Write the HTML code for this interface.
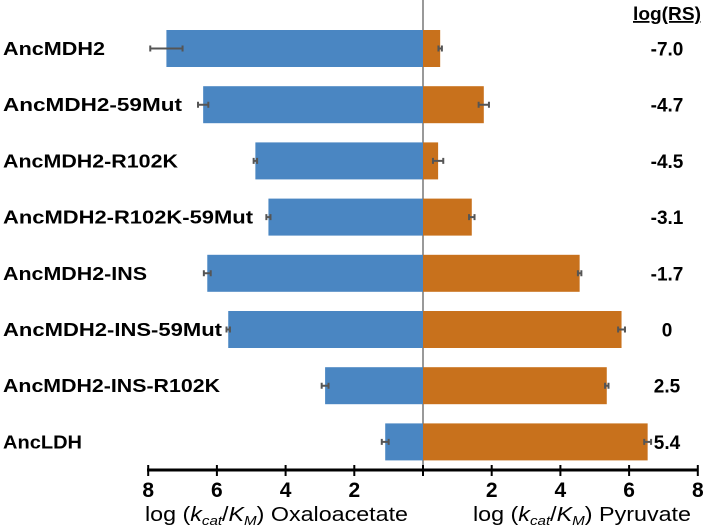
<!DOCTYPE html>
<html><head><meta charset="utf-8"><style>
body{margin:0;background:#fff;}
svg{display:block;font-family:"Liberation Sans",sans-serif;}
</style></head><body>
<svg id="chart" width="707" height="528">
<line x1="423" y1="0" x2="423" y2="470" stroke="#333" stroke-width="1"/>
<g id="bars"></g>
<line x1="147" y1="470" x2="698" y2="470" stroke="#000" stroke-width="3"/>
<g id="ticks"></g>
<text x="667" y="20" font-size="18" font-weight="bold" text-anchor="middle" textLength="68" lengthAdjust="spacingAndGlyphs" text-decoration="underline">log(RS)</text>
<text x="145" y="521" font-size="20" textLength="263" lengthAdjust="spacingAndGlyphs">log (<tspan font-style="italic">k</tspan><tspan font-style="italic" font-size="13" dy="4">cat</tspan><tspan dy="-4">/</tspan><tspan font-style="italic">K</tspan><tspan font-style="italic" font-size="13" dy="4">M</tspan><tspan dy="-4">) Oxaloacetate</tspan></text>
<text x="473" y="521" font-size="20" textLength="218" lengthAdjust="spacingAndGlyphs">log (<tspan font-style="italic">k</tspan><tspan font-style="italic" font-size="13" dy="4">cat</tspan><tspan dy="-4">/</tspan><tspan font-style="italic">K</tspan><tspan font-style="italic" font-size="13" dy="4">M</tspan><tspan dy="-4">) Pyruvate</tspan></text>
</svg>
<script>
const categories=["AncMDH2","AncMDH2-59Mut","AncMDH2-R102K","AncMDH2-R102K-59Mut","AncMDH2-INS","AncMDH2-INS-59Mut","AncMDH2-INS-R102K","AncLDH"];
const oxaloacetate=[7.47,6.4,4.88,4.5,6.28,5.67,2.85,1.1];
const oxaloacetateErr=[0.47,0.15,0.05,0.06,0.1,0.05,0.1,0.1];
const pyruvate=[0.5,1.77,0.44,1.42,4.56,5.78,5.35,6.54];
const pyruvateErr=[0.05,0.15,0.15,0.08,0.05,0.1,0.05,0.1];
const logRS=["-7.0","-4.7","-4.5","-3.1","-1.7","0","2.5","5.4"];
const tickValues=[8,6,4,2];
const labelWidths=[102,179,175,250,144,219,217,79];
const NS="http://www.w3.org/2000/svg";
const cx=423, unit=34.35;
const xL=v=>cx-v*unit, xR=v=>cx+v*unit;
const yRow=i=>48.5+i*56.2;
const bh=37;
const g=document.getElementById('bars');
function mk(tag,attrs,parent){const e=document.createElementNS(NS,tag);for(const k in attrs)e.setAttribute(k,attrs[k]);parent.appendChild(e);return e;}
categories.forEach((c,i)=>{
  const y=yRow(i);
  const b1=mk('rect',{x:xL(oxaloacetate[i]),y:y-bh/2,width:cx-xL(oxaloacetate[i]),height:bh,fill:'#4a86c2'},g);
  
  
  const b2=mk('rect',{x:cx,y:y-bh/2,width:xR(pyruvate[i])-cx,height:bh,fill:'#c8711c'},g);
  
  
  [[xL(oxaloacetate[i]+oxaloacetateErr[i]),xL(oxaloacetate[i]-oxaloacetateErr[i])],[xR(pyruvate[i]-pyruvateErr[i]),xR(pyruvate[i]+pyruvateErr[i])]].forEach(([a,b])=>{
    const e=mk('path',{d:`M${a},${y}H${b}M${a},${y-3}V${y+3}M${b},${y-3}V${y+3}`,stroke:'#555','stroke-width':2,fill:'none'},g);
    
    
  });
  const t=mk('text',{x:3,y:y+6.5,'font-size':18,'font-weight':'bold',textLength:labelWidths[i],lengthAdjust:'spacingAndGlyphs'},g);
  t.textContent=c;
  
  
  const r=mk('text',{x:667,y:y+7,'font-size':19,'font-weight':'bold','text-anchor':'middle'},g);
  r.textContent=logRS[i];
  
  
});
const tg=document.getElementById('ticks');
[...tickValues.map(v=>[xL(v),v]),[cx,null],...tickValues.slice().reverse().map(v=>[xR(v),v])].forEach(([x,v])=>{
  const l=mk('line',{x1:x,y1:465,x2:x,y2:476,stroke:'#000','stroke-width':2},tg);
  
  
  if(v!==null){
    const t=mk('text',{x:x,y:497,'font-size':21,'font-weight':'bold','text-anchor':'middle'},tg);
    t.textContent=v;
    
    
  }
});
</script>
</body></html>
